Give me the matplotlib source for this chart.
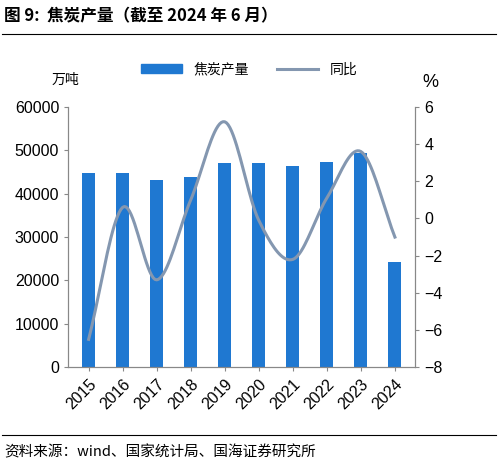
import numpy as np
import matplotlib
matplotlib.use("Agg")
import matplotlib.pyplot as plt
from matplotlib.lines import Line2D

plt.rcParams['font.family'] = ['Noto Sans CJK SC', 'DejaVu Sans']

years = ['2015','2016','2017','2018','2019','2020','2021','2022','2023','2024']
output = [44800, 44800, 43100, 43800, 47100, 47100, 46400, 47300, 49300, 24200]
yoy = [-6.5, 0.6, -3.3, 1.0, 5.2, -0.1, -2.2, 1.1, 3.6, -1.0]

def catmull(xs, ys, n=20):
    xs = np.asarray(xs, float); ys = np.asarray(ys, float)
    px = np.concatenate([[2*xs[0]-xs[1]], xs, [2*xs[-1]-xs[-2]]])
    py = np.concatenate([[2*ys[0]-ys[1]], ys, [2*ys[-1]-ys[-2]]])
    ox, oy = [], []
    for i in range(1, len(px)-2):
        t = np.linspace(0, 1, n, endpoint=False)
        for p, o in ((px, ox), (py, oy)):
            p0, p1, p2, p3 = p[i-1], p[i], p[i+1], p[i+2]
            o.extend(0.5*((2*p1) + (-p0+p2)*t + (2*p0-5*p1+4*p2-p3)*t**2 + (-p0+3*p1-3*p2+p3)*t**3))
    ox.append(xs[-1]); oy.append(ys[-1])
    return np.array(ox), np.array(oy)

fig = plt.figure(figsize=(4.98, 4.69), dpi=100)
ax = fig.add_axes([0.137, 0.217, 0.697, 0.555])
x = np.arange(len(years))
ax.bar(x, output, width=0.38, color='#1f78d1', zorder=2)
ax.set_ylim(0, 60000)
ax.set_yticks(range(0, 60001, 10000))
ax.set_xlim(-0.6, len(years)-0.4)
ax.set_xticks(x)
ax.set_xticklabels(years, rotation=45, ha='right', rotation_mode='anchor')
ax2 = ax.twinx()
sx, sy = catmull(x, yoy)
ax2.plot(sx, sy, color='#8497b0', lw=2.2)
ax2.set_ylim(-8, 6)
ax2.set_yticks(range(-8, 7, 2))
for a in (ax, ax2):
    a.tick_params(labelsize=11.5, length=3, color='#888888')
    for lbl in a.get_xticklabels() + a.get_yticklabels():
        lbl.set_family('Liberation Sans')
    a.spines['top'].set_visible(False)
    for s in ('left', 'right', 'bottom'):
        a.spines[s].set_color('#888888')

fig.text(0.132, 0.822, '万吨', fontsize=10, ha='center')
fig.text(0.865, 0.815, '%', fontsize=13, ha='center', family='Liberation Sans')
handles = [plt.Rectangle((0,0),1,1,color='#1f78d1'), Line2D([0],[0],color='#8497b0',lw=2.2)]
fig.legend(handles, ['焦炭产量', '同比'], loc='center', bbox_to_anchor=(0.5, 0.852), ncol=2,
           frameon=False, fontsize=10, handlelength=3, columnspacing=2)

fig.text(0.008, 0.965, '图 9:  焦炭产量（截至 2024 年 6 月）', fontsize=12, fontweight='bold', va='center')
fig.add_artist(Line2D([0.004, 0.996], [0.928, 0.928], color='black', lw=0.8))
fig.add_artist(Line2D([0.004, 0.996], [0.072, 0.072], color='black', lw=0.8))
fig.text(0.008, 0.035, '资料来源：wind、国家统计局、国海证券研究所', fontsize=10.5, va='center')
fig.savefig('out.png', dpi=100)
